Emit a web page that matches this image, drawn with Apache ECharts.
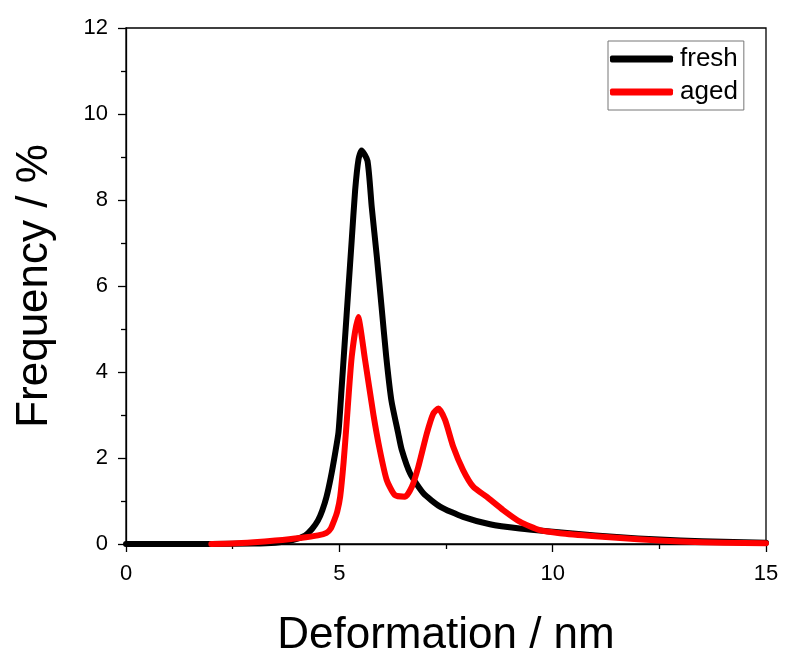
<!DOCTYPE html>
<html>
<head>
<meta charset="utf-8">
<script src="https://cdn.jsdelivr.net/npm/echarts@6/dist/echarts.min.js"></script>
<style>
  html, body { margin: 0; padding: 0; background: #fff; }
  #container { width: 785px; height: 648px; }
</style>
</head>
<body>
<div id="container"></div>
<script>
// fresh sample: deformation (nm) / frequency (%)
var freshX = [0, 1, 2, 3, 3.5, 3.8, 4.0, 4.2, 4.36, 4.5, 4.6, 4.7, 4.8, 4.9, 4.98, 5.05, 5.13, 5.21, 5.29, 5.37, 5.45, 5.52, 5.66, 5.76, 5.88, 5.99, 6.1, 6.22, 6.38, 6.46, 6.66, 6.97, 7.36, 7.9, 8.53, 9.23, 9.94, 11, 12, 13, 14, 15];
var freshY = [0, 0, 0, 0.01, 0.03, 0.07, 0.12, 0.2, 0.35, 0.55, 0.78, 1.1, 1.55, 2.1, 2.6, 3.57, 4.74, 5.9, 7.06, 8.22, 8.95, 9.15, 8.91, 7.83, 6.67, 5.51, 4.35, 3.34, 2.57, 2.2, 1.64, 1.18, 0.87, 0.63, 0.46, 0.36, 0.29, 0.2, 0.13, 0.08, 0.05, 0.03];

// aged sample
var agedX = [2, 2.5, 3, 3.5, 4.08, 4.5, 4.7, 4.8, 4.88, 4.95, 5.02, 5.1, 5.17, 5.29, 5.44, 5.6, 5.8, 5.95, 6.11, 6.3, 6.54, 6.7, 6.85, 7.05, 7.2, 7.32, 7.48, 7.67, 7.9, 8.14, 8.45, 8.84, 9.23, 9.7, 10.17, 11, 12, 13, 14, 15];
var agedY = [0, 0.01, 0.04, 0.08, 0.14, 0.2, 0.26, 0.36, 0.55, 0.75, 1.1, 1.9, 2.8, 4.35, 5.28, 4.3, 3.0, 2.18, 1.49, 1.14, 1.1, 1.33, 1.79, 2.57, 3.03, 3.15, 2.88, 2.26, 1.72, 1.33, 1.1, 0.79, 0.52, 0.32, 0.25, 0.18, 0.11, 0.06, 0.03, 0.02];

var seriesNames = ['fresh', 'aged'];
var seriesColors = ['#000000', '#ff0000'];

function pairs(xs, ys) {
    var out = [];
    for (var i = 0; i < xs.length; i++) {
        out.push([xs[i], ys[i]]);
    }
    return out;
}

var myChart = echarts.init(document.getElementById('container'));
var font = 'Liberation Sans, Arial, sans-serif';

var option = {
    animation: false,
    grid: {
        left: 126,
        right: 19,
        top: 28,
        bottom: 104,
        outerBoundsMode: 'none',
        show: true,
        borderColor: '#000',
        borderWidth: 1.3
    },
    legend: {
        orient: 'vertical',
        left: 608,
        top: 41,
        padding: [5, 6, 5, 2],
        itemGap: 7,
        itemWidth: 63,
        itemHeight: 7,
        icon: 'roundRect',
        borderColor: '#777',
        borderWidth: 1,
        backgroundColor: '#fff',
        textStyle: {fontFamily: font, fontSize: 26, color: '#000', padding: [0, 0, 0, 2]},
        data: seriesNames
    },
    xAxis: {
        type: 'value',
        min: 0,
        max: 15,
        interval: 5,
        name: 'Deformation / nm',
        nameLocation: 'middle',
        nameGap: 70,
        nameTextStyle: {fontFamily: font, fontSize: 44, color: '#000'},
        axisLine: {onZero: false, lineStyle: {color: '#000', width: 1.3}},
        axisTick: {length: 8, lineStyle: {color: '#000', width: 1.3}},
        minorTick: {show: true, splitNumber: 2, length: 5, lineStyle: {color: '#000', width: 1.3}},
        axisLabel: {fontFamily: font, fontSize: 22, color: '#000', margin: 19},
        splitLine: {show: false}
    },
    yAxis: {
        type: 'value',
        min: 0,
        max: 12,
        interval: 2,
        name: 'Frequency / %',
        nameLocation: 'middle',
        nameGap: 69,
        nameTextStyle: {fontFamily: font, fontSize: 44, color: '#000'},
        axisLine: {onZero: false, lineStyle: {color: '#000', width: 1.3}},
        axisTick: {length: 8, lineStyle: {color: '#000', width: 1.3}},
        minorTick: {show: true, splitNumber: 2, length: 5, lineStyle: {color: '#000', width: 1.3}},
        axisLabel: {fontFamily: font, fontSize: 22, color: '#000', margin: 18},
        splitLine: {show: false}
    },
    series: [
        {
            name: seriesNames[0],
            type: 'line',
            smooth: 0.2,
            symbol: 'none',
            color: seriesColors[0],
            lineStyle: {width: 6, color: seriesColors[0], cap: 'round', join: 'round'},
            data: pairs(freshX, freshY),
            z: 2
        },
        {
            name: seriesNames[1],
            type: 'line',
            smooth: 0.2,
            symbol: 'none',
            color: seriesColors[1],
            lineStyle: {width: 6, color: seriesColors[1], cap: 'round', join: 'round'},
            data: pairs(agedX, agedY),
            z: 3
        }
    ]
};

myChart.setOption(option);
</script>
</body>
</html>
